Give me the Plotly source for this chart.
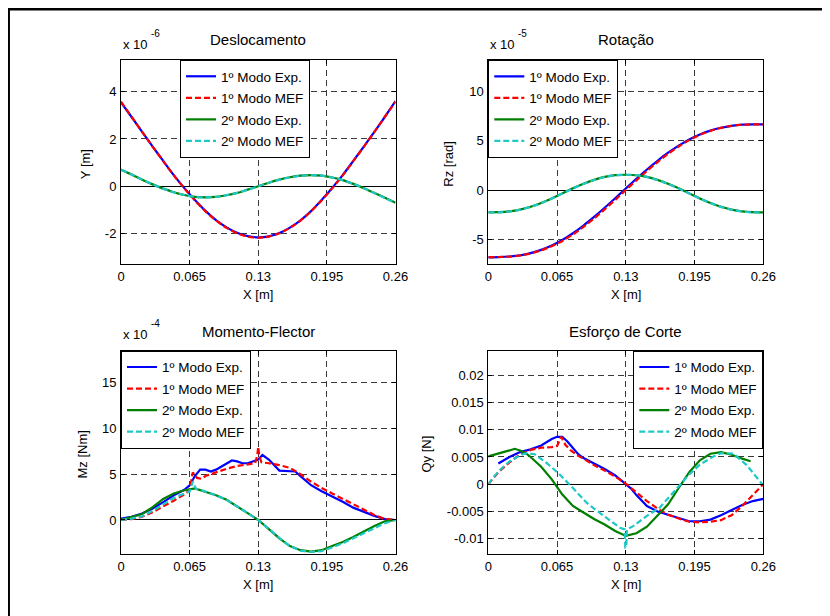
import plotly.graph_objects as go

# ---------------- DATA ----------------
# common abscissa (m) for displacement / rotation
x_pos = [0.00, 0.01, 0.02, 0.03, 0.04, 0.05, 0.06, 0.07, 0.08, 0.09, 0.10, 0.11, 0.12, 0.13,
         0.14, 0.15, 0.16, 0.17, 0.18, 0.19, 0.20, 0.21, 0.22, 0.23, 0.24, 0.25, 0.26]

# Deslocamento, units of 1e-6 m
desl_m1_exp = [3.55, 2.93, 2.30, 1.68, 1.07, 0.47, -0.08, -0.58, -1.04, -1.43, -1.74, -1.97, -2.11, -2.16,
               -2.12, -1.98, -1.75, -1.44, -1.05, -0.58, -0.07, 0.47, 1.07, 1.68, 2.30, 2.94, 3.60]
desl_m1_mef = [3.58, 2.94, 2.30, 1.67, 1.06, 0.46, -0.09, -0.60, -1.06, -1.45, -1.76, -1.99, -2.13, -2.18,
               -2.13, -1.99, -1.76, -1.45, -1.06, -0.60, -0.09, 0.46, 1.06, 1.67, 2.30, 2.94, 3.58]
desl_m2_exp = [0.70, 0.50, 0.28, 0.08, -0.10, -0.25, -0.37, -0.45, -0.47, -0.45, -0.38, -0.28, -0.14, 0.00,
               0.15, 0.28, 0.38, 0.45, 0.47, 0.45, 0.37, 0.26, 0.10, -0.08, -0.28, -0.49, -0.70]
desl_m2_mef = [0.71, 0.50, 0.28, 0.08, -0.10, -0.26, -0.37, -0.45, -0.47, -0.45, -0.38, -0.28, -0.15, 0.00,
               0.15, 0.28, 0.38, 0.45, 0.47, 0.45, 0.37, 0.26, 0.10, -0.08, -0.28, -0.50, -0.71]

# Rotação, units of 1e-5 rad
rot_m1_exp = [-6.82, -6.80, -6.74, -6.62, -6.40, -6.07, -5.63, -5.07, -4.38, -3.60, -2.73, -1.80, -0.83, 0.16,
              1.14, 2.08, 2.96, 3.78, 4.50, 5.13, 5.63, 6.02, 6.31, 6.51, 6.62, 6.65, 6.66]
rot_m1_mef = [-6.80, -6.79, -6.75, -6.64, -6.43, -6.12, -5.70, -5.16, -4.50, -3.74, -2.89, -1.97, -1.00, 0.00,
              0.98, 1.93, 2.83, 3.67, 4.41, 5.06, 5.59, 6.00, 6.30, 6.51, 6.62, 6.65, 6.66]
rot_m2_exp = [-2.26, -2.25, -2.17, -1.99, -1.70, -1.31, -0.85, -0.34, 0.17, 0.63, 1.03, 1.33, 1.51, 1.55,
              1.50, 1.33, 1.03, 0.63, 0.17, -0.34, -0.85, -1.31, -1.70, -1.99, -2.17, -2.25, -2.27]
rot_m2_mef = [-2.28, -2.26, -2.18, -2.00, -1.71, -1.32, -0.86, -0.35, 0.16, 0.62, 1.02, 1.32, 1.50, 1.55,
              1.50, 1.32, 1.02, 0.62, 0.16, -0.35, -0.86, -1.32, -1.71, -2.00, -2.18, -2.27, -2.30]

# Momento-Flector, units of 1e-4 Nm
mom_m1_exp_x = [0.00, 0.01, 0.02, 0.03, 0.04, 0.05, 0.06, 0.065, 0.07, 0.075, 0.08, 0.085, 0.09, 0.10, 0.105,
                0.11, 0.115, 0.12, 0.125, 0.13, 0.134, 0.14, 0.15, 0.16, 0.165, 0.17, 0.18, 0.19, 0.20, 0.21,
                0.22, 0.23, 0.24, 0.25, 0.26]
mom_m1_exp = [0.15, 0.35, 0.70, 1.25, 1.95, 2.70, 3.30, 3.80, 4.80, 5.50, 5.50, 5.30, 5.50, 6.20, 6.50,
              6.40, 6.20, 6.20, 6.40, 6.60, 7.10, 6.60, 5.40, 5.35, 5.30, 4.80, 3.80, 3.15, 2.60, 2.00,
              1.35, 0.90, 0.45, 0.10, 0.00]
mom_m1_mef_x = [0.00, 0.01, 0.02, 0.03, 0.04, 0.05, 0.06, 0.065, 0.068, 0.072, 0.076, 0.08, 0.09, 0.10, 0.11,
                0.12, 0.127, 0.129, 0.13, 0.131, 0.133, 0.14, 0.15, 0.16, 0.17, 0.18, 0.19, 0.20, 0.21,
                0.22, 0.23, 0.24, 0.25, 0.26]
mom_m1_mef = [0.00, 0.10, 0.35, 0.85, 1.50, 2.10, 2.80, 3.30, 5.20, 4.60, 4.50, 4.80, 5.20, 5.60, 5.90,
              6.10, 6.20, 7.00, 8.00, 7.00, 6.30, 6.20, 6.00, 5.70, 5.00, 4.20, 3.50, 2.90, 2.30,
              1.70, 1.10, 0.55, 0.10, 0.00]
mom_m2_exp_x = [0.00, 0.01, 0.02, 0.03, 0.04, 0.05, 0.06, 0.07, 0.08, 0.09, 0.10, 0.11, 0.12, 0.13,
                0.14, 0.15, 0.16, 0.17, 0.18, 0.19, 0.20, 0.21, 0.22, 0.23, 0.24, 0.25, 0.26]
mom_m2_exp = [0.00, 0.30, 0.65, 1.40, 2.30, 2.90, 3.25, 3.45, 3.10, 2.70, 2.20, 1.50, 0.75, 0.00,
              -1.00, -2.00, -2.85, -3.30, -3.45, -3.30, -2.85, -2.40, -1.85, -1.25, -0.65, -0.15, 0.00]
mom_m2_mef_x = [0.00, 0.01, 0.02, 0.03, 0.04, 0.05, 0.06, 0.065, 0.068, 0.071, 0.075, 0.08, 0.09, 0.10,
                0.11, 0.12, 0.13, 0.14, 0.15, 0.16, 0.17, 0.18, 0.19, 0.20, 0.21, 0.22, 0.23, 0.24,
                0.25, 0.26]
mom_m2_mef = [0.00, 0.15, 0.40, 1.00, 1.70, 2.40, 2.90, 3.10, 4.20, 3.40, 3.30, 3.10, 2.70, 2.20,
              1.50, 0.75, 0.00, -1.00, -1.95, -2.85, -3.35, -3.50, -3.40, -3.00, -2.55, -2.00, -1.45, -0.85,
              -0.35, 0.00]

# Esforço de Corte, N
cor_m1_exp_x = [0.0095, 0.015, 0.02, 0.03, 0.04, 0.05, 0.055, 0.06, 0.065, 0.07, 0.075, 0.08, 0.085, 0.09,
                0.10, 0.11, 0.12, 0.125, 0.13, 0.135, 0.14, 0.145, 0.15, 0.16, 0.17, 0.18, 0.19, 0.20,
                0.21, 0.22, 0.23, 0.24, 0.25, 0.26]
cor_m1_exp = [0.0038, 0.0044, 0.0050, 0.0059, 0.0064, 0.0071, 0.0077, 0.0083, 0.0087, 0.0087, 0.0078, 0.0066,
              0.0055, 0.0048, 0.0038, 0.0028, 0.0016, 0.0008, 0.0001, -0.0008, -0.0020, -0.0031, -0.0040,
              -0.0050, -0.0056, -0.0062, -0.0068, -0.0068, -0.0065, -0.0057, -0.0048, -0.0038, -0.0031, -0.0027]
cor_m1_mef_x = [0.00, 0.005, 0.01, 0.02, 0.03, 0.04, 0.05, 0.06, 0.065, 0.069, 0.073, 0.078, 0.085, 0.09,
                0.10, 0.11, 0.12, 0.13, 0.14, 0.15, 0.16, 0.17, 0.18, 0.19, 0.20, 0.21, 0.22, 0.23, 0.24,
                0.25, 0.26]
cor_m1_mef = [0.0000, 0.0012, 0.0023, 0.0040, 0.0055, 0.0063, 0.0067, 0.0068, 0.0070, 0.0087, 0.0072, 0.0062,
              0.0052, 0.0047, 0.0035, 0.0025, 0.0014, 0.0001, -0.0015, -0.0031, -0.0045, -0.0056, -0.0063,
              -0.0069, -0.0070, -0.0069, -0.0066, -0.0057, -0.0040, -0.0020, 0.0000]
cor_m2_exp_x = [0.00, 0.01, 0.02, 0.025, 0.03, 0.036, 0.04, 0.05, 0.06, 0.07, 0.08, 0.09, 0.10, 0.11, 0.12,
                0.13, 0.14, 0.15, 0.16, 0.17, 0.18, 0.19, 0.20, 0.21, 0.22, 0.23, 0.24, 0.248]
cor_m2_exp = [0.0051, 0.0056, 0.0062, 0.0065, 0.0062, 0.0056, 0.0050, 0.0032, 0.0009, -0.0019, -0.0040,
              -0.0052, -0.0064, -0.0074, -0.0086, -0.0095, -0.0090, -0.0078, -0.0058, -0.0037, -0.0007,
              0.0022, 0.0044, 0.0056, 0.0059, 0.0054, 0.0047, 0.0042]
cor_m2_mef_x = [0.00, 0.005, 0.011, 0.02, 0.03, 0.036, 0.044, 0.05, 0.055, 0.06, 0.068, 0.08, 0.093, 0.10,
                0.109, 0.117, 0.1245, 0.129, 0.1295, 0.1305, 0.131, 0.137, 0.1434, 0.15, 0.162, 0.17, 0.178,
                0.19, 0.20, 0.2065, 0.213, 0.22, 0.2317, 0.2443, 0.2585, 0.26]
cor_m2_mef = [0.0000, 0.0013, 0.0026, 0.0042, 0.0053, 0.0057, 0.0055, 0.0047, 0.0039, 0.0031, 0.0017,
              -0.0007, -0.0034, -0.0045, -0.0058, -0.0070, -0.0080, -0.0083, -0.0116, -0.0116, -0.0083,
              -0.0077, -0.0068, -0.0058, -0.0043, -0.0025, -0.0007, 0.0018, 0.0036, 0.0044, 0.0051,
              0.0057, 0.0056, 0.0035, 0.0001, 0.0000]

series_names = ["1º Modo Exp.", "1º Modo MEF", "2º Modo Exp.", "2º Modo MEF"]
titles = ["Deslocamento", "Rotação", "Momento-Flector", "Esforço de Corte"]
y_labels = ["Y [m]", "Rz [rad]", "Mz [Nm]", "Qy [N]"]
exponents = ["-6", "-5", "-4", None]
x_ticks = [0, 0.065, 0.13, 0.195, 0.26]
x_tick_labels = ["0", "0.065", "0.13", "0.195", "0.26"]
y_ticks = [[-2, 0, 2, 4], [-5, 0, 5, 10], [0, 5, 10, 15],
           [-0.01, -0.005, 0, 0.005, 0.01, 0.015, 0.02]]
y_tick_labels = [["-2", "0", "2", "4"], ["-5", "0", "5", "10"], ["0", "5", "10", "15"],
                 ["-0.01", "-0.005", "0", "0.005", "0.01", "0.015", "0.02"]]
y_ranges = [[-3.30, 5.34], [-7.53, 13.18], [-3.75, 18.5], [-0.01287, 0.02451]]

# ---------------- FIGURE ----------------
OFF = 8                      # page body margin of the browser
W, H = 830 - OFF, 616 - OFF
FONT = "Liberation Sans, Arial, Helvetica, sans-serif"
colors = ["#0000FF", "#FF0000", "#007F00", "#1EC8C8"]
dashes = ["solid", "6px,3px", "solid", "6px,3px"]


def px(v):
    return (v - OFF) / W


def py(v):
    return 1 - (v - OFF) / H


# plot areas in screen pixels: (left, right, top, bottom)
areas = [(121, 395.5, 60, 264.3), (488.3, 763.3, 60, 264.3),
         (121, 395.5, 350.7, 554.3), (488.3, 763.3, 350.7, 554.3)]

panels = [
    [(x_pos, desl_m1_exp), (x_pos, desl_m1_mef), (x_pos, desl_m2_exp), (x_pos, desl_m2_mef)],
    [(x_pos, rot_m1_exp), (x_pos, rot_m1_mef), (x_pos, rot_m2_exp), (x_pos, rot_m2_mef)],
    [(mom_m1_exp_x, mom_m1_exp), (mom_m1_mef_x, mom_m1_mef), (mom_m2_exp_x, mom_m2_exp),
     (mom_m2_mef_x, mom_m2_mef)],
    [(cor_m1_exp_x, cor_m1_exp), (cor_m1_mef_x, cor_m1_mef), (cor_m2_exp_x, cor_m2_exp),
     (cor_m2_mef_x, cor_m2_mef)],
]

fig = go.Figure()
legend_names = ["legend", "legend2", "legend3", "legend4"]
for p, series in enumerate(panels):
    xa = "x" if p == 0 else f"x{p+1}"
    ya = "y" if p == 0 else f"y{p+1}"
    for s, (xs, ys) in enumerate(series):
        fig.add_trace(go.Scatter(
            x=xs, y=ys, mode="lines", name=series_names[s],
            line=dict(color=colors[s], width=2.2, dash=dashes[s],
                      shape="spline" if p < 2 else "linear", smoothing=0.6),
            xaxis=xa, yaxis=ya, legend=legend_names[p], legendgroup=f"g{p}{s}",
        ))

layout = dict(
    width=W, height=H, margin=dict(l=0, r=0, t=0, b=0, autoexpand=False),
    paper_bgcolor="white", plot_bgcolor="white",
    font=dict(family=FONT, size=13, color="black"),
    showlegend=True,
)

annotations = []
legend_pos = [
    dict(x=px(245), xanchor="center"),
    dict(x=px(488.3), xanchor="left"),
    dict(x=px(121), xanchor="left"),
    dict(x=px(763.3), xanchor="right"),
]
for p, (l, r, t, b) in enumerate(areas):
    sfx = "" if p == 0 else str(p + 1)
    layout["xaxis" + sfx] = dict(
        domain=[px(l), px(r)], range=[0, 0.26], anchor="y" + sfx,
        tickvals=x_ticks, ticktext=x_tick_labels, ticks="inside", ticklen=4,
        tickcolor="black", showline=True, linecolor="black", linewidth=1, mirror="ticks",
        showgrid=True, gridcolor="#3a3a3a", gridwidth=1, griddash="6px,4px",
        zeroline=False, tickfont=dict(size=13), ticklabelstandoff=0, fixedrange=True,
    )
    layout["yaxis" + sfx] = dict(
        domain=[py(b), py(t)], range=y_ranges[p], anchor="x" + sfx,
        tickvals=y_ticks[p], ticktext=y_tick_labels[p], ticks="inside", ticklen=4,
        tickcolor="black", showline=True, linecolor="black", linewidth=1, mirror="ticks",
        showgrid=True, gridcolor="#3a3a3a", gridwidth=1, griddash="6px,4px",
        zeroline=True, zerolinecolor="black", zerolinewidth=1,
        tickfont=dict(size=13), ticklabelstandoff=1, fixedrange=True,
    )
    lg = dict(y=py(t), yanchor="top", bgcolor="white", bordercolor="black", borderwidth=1,
              font=dict(size=13.5, family=FONT), traceorder="grouped", tracegroupgap=1,
              itemclick=False, itemdoubleclick=False)
    lg.update(legend_pos[p])
    layout[legend_names[p]] = lg

    cx = (l + r) / 2
    ty = t - 20 if p < 2 else t - 19
    annotations.append(dict(text=titles[p], x=px(cx), y=py(ty), xref="paper", yref="paper",
                            showarrow=False, xanchor="center", yanchor="middle",
                            font=dict(size=15)))
    annotations.append(dict(text="X [m]", x=px(cx), y=py(b + 30), xref="paper", yref="paper",
                            showarrow=False, xanchor="center", yanchor="middle", font=dict(size=13)))
    ylx = [85, 448.5, 82, 426][p]
    annotations.append(dict(text=y_labels[p], x=px(ylx), y=py((t + b) / 2 + 2), xref="paper",
                            yref="paper", showarrow=False, textangle=-90, xanchor="center",
                            yanchor="middle", font=dict(size=13)))
    if exponents[p]:
        annotations.append(dict(text="x 10", x=px(l), y=py(t - 16), xref="paper", yref="paper",
                                showarrow=False, xanchor="left", yanchor="middle", font=dict(size=13)))
        annotations.append(dict(text=exponents[p], x=px(l + 28), y=py(t - 27), xref="paper",
                                yref="paper", showarrow=False, xanchor="left", yanchor="middle",
                                font=dict(size=10)))

layout["annotations"] = annotations
layout["shapes"] = [dict(type="rect", xref="paper", yref="paper", x0=px(8.7), x1=1.05,
                         y0=-0.05, y1=py(9.3), line=dict(color="black", width=2.5),
                         fillcolor="rgba(0,0,0,0)", layer="above")]
fig.update_layout(**layout)
fig.write_html("out.html")
